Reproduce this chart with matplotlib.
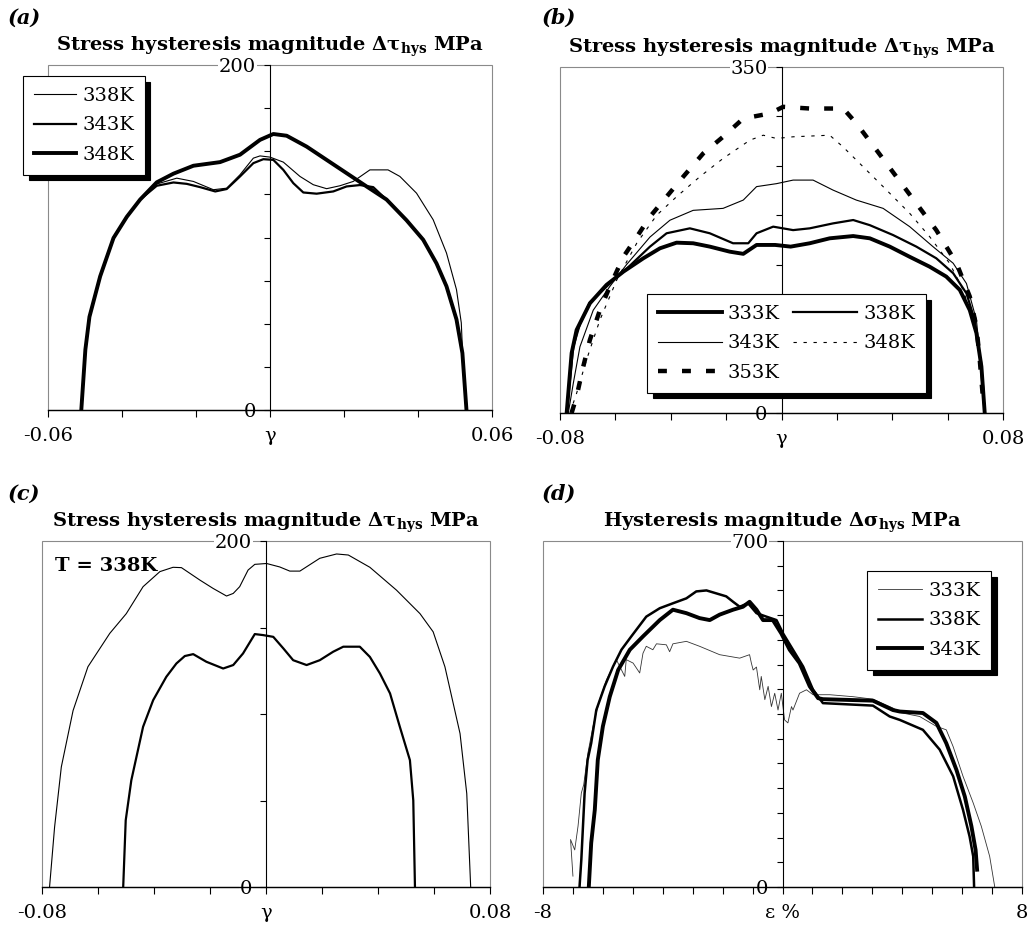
import matplotlib
matplotlib.use('Agg')
import matplotlib.pyplot as plt
from matplotlib.patches import Rectangle
import numpy as np

plt.rcParams['font.family'] = ['DejaVu Serif']
plt.rcParams['mathtext.fontset'] = 'dejavuserif'

W, H = 1029, 934

# --- DATA ---
# (a) stress hysteresis, strain gamma
a_x_338 = [-0.0510, -0.0499, -0.0488, -0.0459, -0.0423, -0.0387, -0.0351, -0.0306, -0.0252, -0.0207,
           -0.0153, -0.0117, -0.0081, -0.0045, -0.0027, 0.0000, 0.0036, 0.0081, 0.0117, 0.0153,
           0.0189, 0.0225, 0.0270, 0.0319, 0.0351, 0.0396, 0.0441, 0.0477, 0.0504, 0.0517,
           0.0522, 0.0531]
a_y_338 = [0, 35, 54, 77.5, 100.5, 112, 122, 131, 134.4, 132.5,
           127.7, 128.6, 136.4, 146.0, 147.3, 146.6, 143.7, 135.4, 130.6, 128.3,
           130.0, 132.5, 139.2, 139.2, 135.4, 125.7, 110.3, 91.0, 69.8, 50.5,
           25.5, 0]
a_x_343 = [-0.0510, -0.0499, -0.0488, -0.0459, -0.0423, -0.0387, -0.0351, -0.0306, -0.0261, -0.0225,
           -0.0189, -0.0148, -0.0117, -0.0081, -0.0045, -0.0018, 0.0009, 0.0036, 0.0063, 0.0090,
           0.0126, 0.0171, 0.0207, 0.0243, 0.0279, 0.0315, 0.0369, 0.0414, 0.0450, 0.0477,
           0.0504, 0.0520, 0.0531]
a_y_343 = [0, 35, 54, 77.5, 99.7, 112, 122, 130, 131.9, 131.1,
           129.2, 126.7, 128.1, 135.4, 143.1, 145.4, 145.0, 139.2, 131.5, 126.1,
           125.4, 126.7, 129.6, 130.4, 129.2, 121.9, 110, 98.7, 85, 71.7,
           52.5, 33, 0]
a_x_348 = [-0.0510, -0.0499, -0.0488, -0.0459, -0.0423, -0.0387, -0.0351, -0.0306, -0.0261, -0.0207,
           -0.0135, -0.0081, -0.0027, 0.0009, 0.0045, 0.0099, 0.0153, 0.0207, 0.0261, 0.0315,
           0.0369, 0.0414, 0.0450, 0.0477, 0.0504, 0.0520, 0.0531]
a_y_348 = [0, 35, 54, 77.5, 99.7, 112, 122, 132, 137, 141.6,
           143.7, 148, 156.6, 160, 159, 152.7, 145, 137.3, 129.6, 122,
           110, 98.7, 85, 71.7, 52.5, 33, 0]

# (b)
b_x_333 = [-0.0776, -0.0758, -0.0740, -0.0692, -0.0632, -0.0571, -0.0499, -0.0439, -0.0379, -0.0319,
           -0.0259, -0.0187, -0.0138, -0.0090, -0.0023, 0.0033, 0.0102, 0.0174, 0.0259, 0.0319,
           0.0391, 0.0463, 0.0535, 0.0595, 0.0644, 0.0680, 0.0704, 0.0722, 0.0734]
b_y_333 = [0, 60.6, 84, 111, 129.6, 143, 156.5, 166.6, 172.3, 171.7,
           168.3, 163.2, 161, 170, 170, 168.3, 171.7, 176.7, 179, 176.7,
           168.3, 158, 148, 138, 124.5, 104, 80.8, 47, 0]
b_x_338 = [-0.0776, -0.0752, -0.0728, -0.0692, -0.0620, -0.0559, -0.0475, -0.0415, -0.0331, -0.0259,
           -0.0175, -0.0120, -0.0090, -0.0030, 0.0042, 0.0102, 0.0186, 0.0259, 0.0319, 0.0403,
           0.0487, 0.0559, 0.0620, 0.0668, 0.0698, 0.0718, 0.0734]
b_y_338 = [0, 67, 90, 112, 131, 146, 168.3, 181.8, 186.8, 181.8,
           171.7, 171.7, 181.8, 188.5, 185, 186.8, 191.8, 195.2, 190, 180,
           168.3, 156.5, 141.4, 121, 94, 53.9, 0]
b_x_343 = [-0.0770, -0.0752, -0.0728, -0.0680, -0.0620, -0.0560, -0.0475, -0.0403, -0.0319, -0.0211,
           -0.0138, -0.0090, -0.0018, 0.0042, 0.0114, 0.0186, 0.0270, 0.0367, 0.0463, 0.0547,
           0.0620, 0.0668, 0.0704, 0.0720, 0.0734]
b_y_343 = [0, 30, 67, 104, 128, 150, 178, 195, 205, 207,
           215.4, 229, 232, 235.6, 235.6, 225.5, 215.4, 207, 188.5, 168.3,
           151.5, 131, 94, 50, 0]
b_x_348 = [-0.0764, -0.0740, -0.0704, -0.0656, -0.0595, -0.0523, -0.0451, -0.0379, -0.0295, -0.0211,
           -0.0114, -0.0066, -0.0018, 0.0042, 0.0174, 0.0223, 0.0295, 0.0367, 0.0463, 0.0535,
           0.0607, 0.0656, 0.0698, 0.0716, 0.0737]
b_y_348 = [0, 20, 54, 94, 134.6, 171.7, 200, 218.8, 239, 257.5,
           276, 281, 277.7, 279.4, 281, 269, 249, 229, 202, 178.4,
           151.5, 124.5, 87.5, 60, 0]
b_x_353 = [-0.0758, -0.0740, -0.0716, -0.0692, -0.0656, -0.0620, -0.0571, -0.0523, -0.0475, -0.0415,
           -0.0355, -0.0283, -0.0211, -0.0138, -0.0042, 0.0006, 0.0102, 0.0223, 0.0271, 0.0343,
           0.0415, 0.0487, 0.0559, 0.0632, 0.0680, 0.0704, 0.0716, 0.0728]
b_y_353 = [0, 16.8, 47, 74, 104, 128, 158, 178, 198.6, 218.8,
           239, 262.5, 279.4, 297.9, 303, 309.7, 308, 308, 292.8, 266,
           239, 212, 185, 151.5, 117.8, 87.5, 54, 13.5]

# (c) T = 338K
c_x_outer = [-0.0773, -0.0755, -0.0731, -0.0689, -0.0636, -0.0558, -0.0499, -0.0439, -0.0379, -0.0332,
             -0.0302, -0.0236, -0.0189, -0.0141, -0.0117, -0.0094, -0.0064, -0.0040, 0.0002, 0.0049,
             0.0085, 0.0121, 0.0192, 0.0252, 0.0294, 0.0371, 0.0466, 0.0550, 0.0597, 0.0639,
             0.0693, 0.0717, 0.0731]
c_y_outer = [0, 34.7, 69.4, 102, 127.3, 146.6, 158, 173.6, 182.3, 184.8,
             184.6, 177.4, 172.6, 168.2, 169.7, 173.6, 183.2, 186.5, 187, 185,
             182.6, 182.6, 190, 192.5, 191.9, 184.8, 171.6, 158, 147.5, 127.3,
             88.7, 54, 0]
c_x_inner = [-0.0510, -0.0501, -0.0481, -0.0439, -0.0403, -0.0356, -0.0320, -0.0290, -0.0260, -0.0213,
             -0.0153, -0.0117, -0.0082, -0.0040, -0.0010, 0.0026, 0.0062, 0.0097, 0.0145, 0.0192,
             0.0240, 0.0276, 0.0335, 0.0371, 0.0407, 0.0443, 0.0478, 0.0514, 0.0526, 0.0532]
c_y_inner = [0, 38.6, 61.7, 92.6, 108, 121.5, 129.2, 133.5, 134.6, 130.2,
             126.3, 128.3, 135, 146.2, 145.6, 144.6, 137.9, 131.1, 128.3, 131.1,
             136, 138.9, 138.9, 133, 123.4, 111.9, 92.6, 73.3, 50, 0]

# (d) tension-compression, strain in %
d_x_333 = [-7.00, -7.08, -6.94, -6.83, -6.72, -6.64, -6.50, -6.33, -6.11, -5.88,
           -5.55, -5.27, -5.22, -4.99, -4.77, -4.66, -4.55, -4.33, -4.21, -3.88,
           -3.77, -3.66, -3.21, -2.77, -2.10, -1.43, -1.10, -1.04, -0.98, -0.87,
           -0.76, -0.71, -0.59, -0.48, -0.37, -0.26, -0.15, -0.04, 0.07, 0.18,
           0.30, 0.35, 0.57, 0.80, 1.02, 1.58, 2.36, 3.02, 3.69, 3.92,
           4.58, 5.14, 5.47, 5.70, 6.03, 6.37, 6.64, 6.92, 7.09]
d_y_333 = [22, 96, 75, 123, 190, 207, 271, 325, 379, 419,
           460, 426, 460, 453, 433, 473, 487, 480, 492, 490,
           476, 492, 497, 487, 470, 463, 470, 453, 439, 445,
           399, 426, 379, 406, 365, 392, 358, 392, 338, 332,
           365, 358, 392, 399, 389, 389, 385, 380, 362, 353,
           345, 325, 318, 284, 224, 170, 123, 62, 0]
d_x_338 = [-6.78, -6.72, -6.61, -6.51, -6.39, -6.22, -5.94, -5.66, -5.38, -5.05,
           -4.55, -4.10, -3.66, -3.21, -2.88, -2.54, -2.21, -1.88, -1.65, -1.43,
           -1.15, -0.87, -0.54, -0.20, 0.02, 0.35, 0.69, 1.02, 1.35, 3.02,
           3.58, 3.92, 4.69, 5.25, 5.70, 6.03, 6.25, 6.37, 6.40]
d_y_338 = [0, 55, 190, 257, 291, 358, 406, 446, 480, 507,
           547, 564, 574, 584, 598, 600, 594, 588, 577, 567,
           574, 554, 547, 540, 513, 480, 446, 399, 372, 367,
           345, 338, 318, 278, 224, 156, 102, 62, 0]
d_x_343 = [-6.47, -6.39, -6.27, -6.17, -6.00, -5.77, -5.49, -5.10, -4.66, -4.10,
           -3.66, -3.21, -2.77, -2.43, -2.10, -1.65, -1.32, -1.10, -0.87, -0.65,
           -0.32, -0.04, 0.24, 0.57, 0.91, 1.19, 1.35, 3.02, 3.69, 3.92,
           4.69, 5.14, 5.47, 5.81, 6.09, 6.31, 6.45, 6.50]
d_y_343 = [0, 89, 156, 257, 325, 385, 439, 480, 507, 540,
           561, 554, 544, 540, 551, 561, 567, 577, 561, 540,
           540, 513, 480, 453, 406, 382, 380, 377, 358, 355,
           352, 332, 291, 237, 183, 123, 75, 35]

THIN, MED, THICK = 0.8, 1.6, 2.8


def box(l, t, r, b):
    return [l / W, 1 - b / H, (r - l) / W, (b - t) / H]


def setup(ax, xlim, ylim, nx, ny, end_labels, center_label, title):
    ax.set_xlim(*xlim)
    ax.set_ylim(*ylim)
    ax.spines['top'].set_visible(False)
    ax.spines['right'].set_visible(False)
    ax.spines['left'].set_position(('data', 0))
    ax.spines['left'].set_linewidth(0.8)
    ax.spines['bottom'].set_linewidth(1.0)
    # grey outer frame
    ax.add_patch(Rectangle((0, 0), 1, 1, transform=ax.transAxes, fill=False,
                           edgecolor='#8a8a8a', linewidth=0.8, clip_on=False, zorder=0))
    xt = np.linspace(xlim[0], xlim[1], nx + 1)
    xl = [''] * len(xt)
    xl[0], xl[-1] = end_labels
    xl[nx // 2] = center_label
    ax.set_xticks(xt, xl)
    yt = np.linspace(ylim[0], ylim[1], ny + 1)
    yl = [''] * len(yt)
    yl[0] = '0'
    yl[-1] = str(int(ylim[1]))
    ax.set_yticks(yt, yl)
    ax.tick_params(axis='x', direction='out', length=5, width=0.8, pad=7, labelsize=14)
    ax.tick_params(axis='y', direction='out', length=4, width=0.8, pad=6, labelsize=14)
    for lab in ax.get_yticklabels():
        lab.set_bbox(dict(facecolor='white', edgecolor='none', pad=0.5))
    ax.set_title(title, fontsize=14, fontweight='bold', pad=10)


def legend(ax, handles, labels, anchor, ncol=1, hl=2.2):
    leg = ax.legend(handles, labels, loc='upper left', bbox_to_anchor=anchor,
                    bbox_transform=fig.transFigure, ncol=ncol, fontsize=14,
                    handlelength=hl, handletextpad=0.3, labelspacing=0.6,
                    columnspacing=0.7, borderpad=0.55, borderaxespad=0,
                    fancybox=False, framealpha=1, edgecolor='black',
                    shadow={'ox': 4, 'oy': -4, 'facecolor': 'black',
                            'edgecolor': 'black', 'alpha': 1})
    leg.get_frame().set_linewidth(0.8)
    return leg


fig = plt.figure(figsize=(W / 100, H / 100), dpi=100)
tau_title = 'Stress hysteresis magnitude Δτ$_{\\mathbf{hys}}$ MPa'

# --- (a) ---
ax = fig.add_axes(box(48, 65, 492, 410))
setup(ax, (-0.06, 0.06), (0, 200), 6, 8, ('-0.06', '0.06'), 'γ', tau_title)
la, = ax.plot(a_x_338, a_y_338, color='black', lw=THIN)
lb, = ax.plot(a_x_343, a_y_343, color='black', lw=MED)
lc, = ax.plot(a_x_348, a_y_348, color='black', lw=THICK)
legend(ax, [la, lb, lc], ['338K', '343K', '348K'], (23 / W, 1 - 76 / H))

# --- (b) ---
ax = fig.add_axes(box(560, 67, 1003, 413))
setup(ax, (-0.08, 0.08), (0, 350), 8, 7, ('-0.08', '0.08'), 'γ', tau_title)
l333, = ax.plot(b_x_333, b_y_333, color='black', lw=THICK)
l338, = ax.plot(b_x_338, b_y_338, color='black', lw=MED)
l343, = ax.plot(b_x_343, b_y_343, color='black', lw=THIN)
l348, = ax.plot(b_x_348, b_y_348, color='black', lw=THIN, ls=(0, (3, 6)))
l353, = ax.plot(b_x_353, b_y_353, color='black', lw=THICK + 0.4, ls=(0, (2, 3.4)))
legend(ax, [l333, l343, l353, l338, l348], ['333K', '343K', '353K', '338K', '348K'],
       (647 / W, 1 - 294 / H), ncol=2, hl=3.3)

# --- (c) ---
ax = fig.add_axes(box(42, 541, 490, 887))
setup(ax, (-0.08, 0.08), (0, 200), 8, 4, ('-0.08', '0.08'), 'γ', tau_title)
ax.plot(c_x_outer, c_y_outer, color='black', lw=THIN)
ax.plot(c_x_inner, c_y_inner, color='black', lw=MED)
ax.text(0.03, 0.955, 'T = 338K', transform=ax.transAxes, fontsize=14,
        fontweight='bold', va='top', ha='left')

# --- (d) ---
ax = fig.add_axes(box(543, 541, 1022, 887))
setup(ax, (-8, 8), (0, 700), 16, 14, ('-8', '8'), 'ε %',
      'Hysteresis magnitude Δσ$_{\\mathbf{hys}}$ MPa')
m333, = ax.plot(d_x_333, d_y_333, color='#333333', lw=0.6)
m338, = ax.plot(d_x_338, d_y_338, color='black', lw=MED + 0.2)
m343, = ax.plot(d_x_343, d_y_343, color='black', lw=THICK)
legend(ax, [m333, m338, m343], ['333K', '338K', '343K'], (867 / W, 1 - 571 / H), hl=2.3)

# panel letters
for x, y, s in [(8, 8, '(a)'), (542, 8, '(b)'), (8, 484, '(c)'), (542, 484, '(d)')]:
    fig.text(x / W, 1 - y / H, s, fontsize=15, fontweight='bold', style='italic',
             va='top', ha='left')

fig.savefig('out.png', dpi=100)
